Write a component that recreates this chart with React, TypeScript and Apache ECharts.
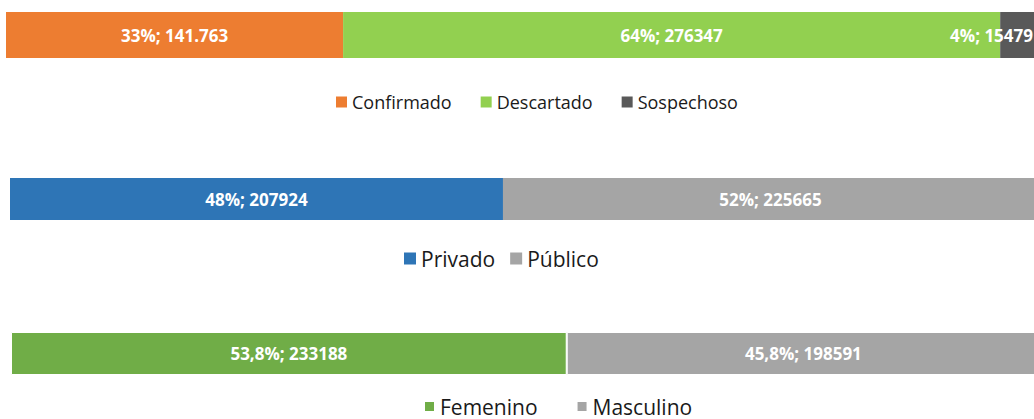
import React, { useEffect, useRef } from "react";
import * as echarts from "echarts";

// Chart 1: case status
const statusNames = ["Confirmado", "Descartado", "Sospechoso"];
const statusValues = [141763, 276347, 15479];
const statusLabels = ["33%; 141.763", "64%; 276347", "4%; 15479"];
const statusColors = ["#ED7D31", "#92D050", "#595959"];

// Chart 2: sector
const sectorNames = ["Privado", "Público"];
const sectorValues = [207924, 225665];
const sectorLabels = ["48%; 207924", "52%; 225665"];
const sectorColors = ["#2E75B6", "#A5A5A5"];

// Chart 3: sex
const sexNames = ["Femenino", "Masculino"];
const sexValues = [233188, 198591];
const sexLabels = ["53,8%; 233188", "45,8%; 198591"];
const sexColors = ["#70AD47", "#A5A5A5"];

const sum = (a: number[]) => a.reduce((s, v) => s + v, 0);

export default function App() {
  const ref = useRef<HTMLDivElement>(null);
  useEffect(() => {
    if (!ref.current) return;
    const chart = echarts.init(ref.current, undefined, { renderer: "svg" });
    const groups = [
      { names: statusNames, values: statusValues, labels: statusLabels, colors: statusColors },
      { names: sectorNames, values: sectorValues, labels: sectorLabels, colors: sectorColors },
      { names: sexNames, values: sexValues, labels: sexLabels, colors: sexColors },
    ];
    const grids = [
      { left: 6, top: 12, width: 1031, height: 46 },
      { left: 10, top: 178, width: 1028, height: 42 },
      { left: 11, top: 332, width: 1029, height: 43 },
    ];
    const legendPos = [
      { left: 336, top: 93, itemGap: 29, fontSize: 18, lineHeight: 18, icon: 11 },
      { left: 404, top: 248, itemGap: 15, fontSize: 21, lineHeight: 20, icon: 12 },
      { left: 423, top: 396, itemGap: 38, fontSize: 21, lineHeight: 20, icon: 11 },
    ];
    const series: any[] = [];
    groups.forEach((g, gi) => {
      g.names.forEach((n, i) => {
        const isLastOverflow = gi === 0 && i === g.names.length - 1;
        series.push({
          type: "bar",
          name: n,
          xAxisIndex: gi,
          yAxisIndex: gi,
          stack: "s" + gi,
          barCategoryGap: "0%",
          color: g.colors[i],
          itemStyle: {
            color: g.colors[i],
            borderColor: gi === 2 ? "#ffffff" : g.colors[i],
            borderWidth: gi === 2 ? 1 : 0,
          },
          label: {
            show: true,
            position: isLastOverflow ? "insideRight" : "inside",
            distance: isLastOverflow ? 4 : 0,
            formatter: () => g.labels[i],
            color: "#ffffff",
            fontFamily: "Open Sans",
            fontWeight: "bold",
            fontSize: 17,
          },
          data: [g.values[i]],
        });
      });
    });
    chart.setOption({
      animation: false,
      grid: grids.map((gr) => ({ ...gr, containLabel: false })),
      xAxis: groups.map((g, gi) => ({
        type: "value",
        gridIndex: gi,
        min: 0,
        max: sum(g.values),
        show: false,
      })),
      yAxis: groups.map((g, gi) => ({
        type: "category",
        gridIndex: gi,
        data: [""],
        show: false,
      })),
      legend: groups.map((g, gi) => ({
        data: g.names,
        left: legendPos[gi].left,
        top: legendPos[gi].top,
        itemGap: legendPos[gi].itemGap,
        padding: 0,
        icon: "rect",
        itemWidth: legendPos[gi].icon,
        itemHeight: legendPos[gi].icon,
        textStyle: {
          fontFamily: "Open Sans",
          fontSize: legendPos[gi].fontSize,
          lineHeight: legendPos[gi].lineHeight,
          color: "#1a1a1a",
        },
      })),
      series,
    });
    return () => chart.dispose();
  }, []);
  return (
    <div style={{ position: "fixed", left: 0, top: 0, width: 1034, height: 419, overflow: "hidden", background: "#fff" }}>
      <div ref={ref} style={{ width: 1042, height: 419 }} />
    </div>
  );
}
